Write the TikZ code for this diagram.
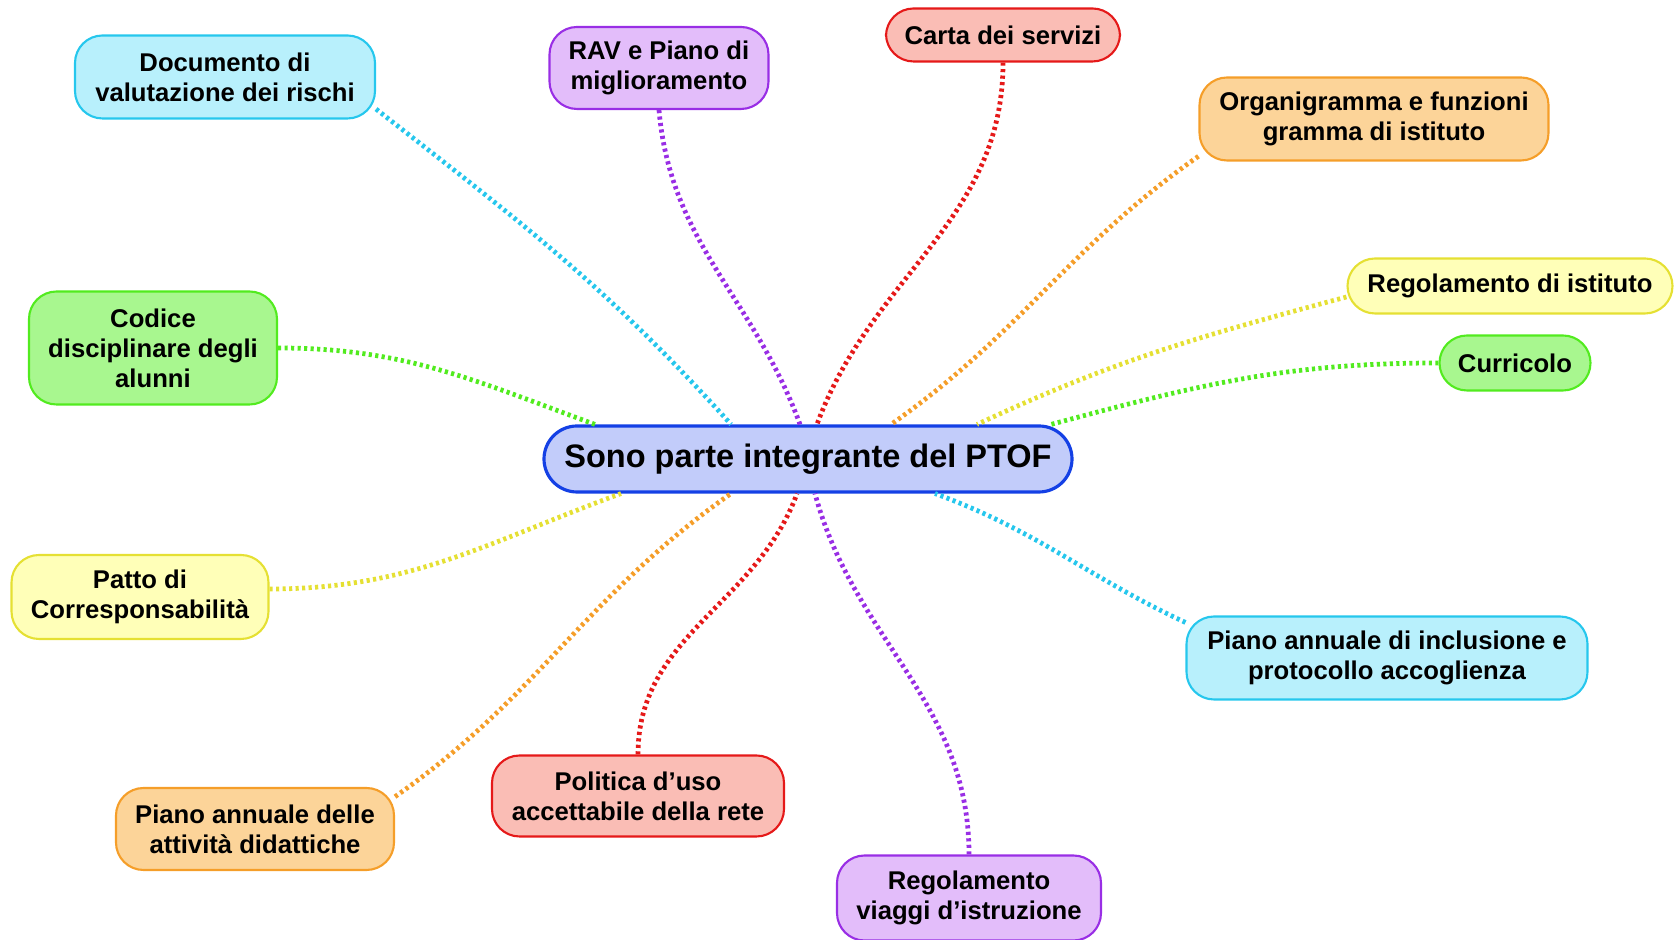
\documentclass[tikz,border=0pt]{standalone}
\usepackage{fontspec}
\setmainfont{Liberation Sans}
\usepackage{xcolor}
\usepackage{tikz}
\usetikzlibrary{positioning}
\definecolor{cyanfill}{rgb}{0.72,0.94,0.99}
\definecolor{cyanline}{rgb}{0.15,0.78,0.93}
\definecolor{purplefill}{rgb}{0.89,0.74,0.98}
\definecolor{purpleline}{rgb}{0.60,0.18,0.90}
\definecolor{redfill}{rgb}{0.98,0.74,0.71}
\definecolor{redline}{rgb}{0.90,0.10,0.10}
\definecolor{orangefill}{rgb}{0.99,0.83,0.60}
\definecolor{orangeline}{rgb}{0.96,0.62,0.16}
\definecolor{yellowfill}{rgb}{1.00,1.00,0.72}
\definecolor{yellowline}{rgb}{0.90,0.88,0.20}
\definecolor{greenfill}{rgb}{0.66,0.97,0.56}
\definecolor{greenline}{rgb}{0.32,0.92,0.12}
\definecolor{ptoffill}{rgb}{0.76,0.80,0.98}
\definecolor{ptofline}{rgb}{0.08,0.25,0.90}

\begin{document}
\begin{tikzpicture}[
    topic/.style={draw, line width=1.2pt, rounded corners=0.55cm, align=center,
      inner sep=0pt, font=\fontsize{14.6}{17}\selectfont\bfseries},
    cyanbox/.style={topic, draw=cyanline, fill=cyanfill},
    purplebox/.style={topic, draw=purpleline, fill=purplefill},
    redbox/.style={topic, draw=redline, fill=redfill},
    orangebox/.style={topic, draw=orangeline, fill=orangefill},
    yellowbox/.style={topic, draw=yellowline, fill=yellowfill},
    greenbox/.style={topic, draw=greenline, fill=greenfill},
    link/.style={line width=2.7pt, dash pattern=on 1.8pt off 1.9pt}
  ]
        \useasboundingbox (0,0) rectangle (33.56,18.8);

        \node[draw=ptofline, fill=ptoffill, line width=1.8pt, rounded corners=0.66cm,
          minimum width=10.56cm, minimum height=1.32cm, inner sep=0pt,
          font=\fontsize{18.5}{22}\selectfont\bfseries]
          (ptof) at (16.16,9.62) {\raisebox{-1pt}{Sono parte integrante del PTOF}};

        \node[cyanbox, minimum width=6.0cm, minimum height=1.66cm]
          (doc) at (4.50,17.26) {Documento di\\valutazione dei rischi};
        \node[purplebox, minimum width=4.38cm, minimum height=1.64cm]
          (rav) at (13.18,17.44) {RAV e Piano di\\miglioramento};
        \node[redbox, minimum width=4.68cm, minimum height=1.06cm]
          (carta) at (20.06,18.10) {Carta dei servizi};
        \node[orangebox, minimum width=6.98cm, minimum height=1.66cm]
          (organ) at (27.48,16.42) {Organigramma e funzioni\\gramma di istituto};
        \node[yellowbox, minimum width=6.5cm, minimum height=1.1cm]
          (regist) at (30.20,13.08) {\raisebox{-1.5pt}{Regolamento di istituto}};
        \node[greenbox, minimum width=3.02cm, minimum height=1.1cm]
          (curr) at (30.30,11.54) {Curricolo};
        \node[greenbox, minimum width=4.96cm, minimum height=2.26cm]
          (codice) at (3.06,11.84) {Codice\\disciplinare degli\\alunni};
        \node[yellowbox, minimum width=5.14cm, minimum height=1.68cm]
          (patto) at (2.80,6.86) {Patto di\\Corresponsabilità};
        \node[cyanbox, minimum width=8.02cm, minimum height=1.66cm]
          (inclus) at (27.74,5.64) {Piano annuale di inclusione e\\protocollo accoglienza};
        \node[orangebox, minimum width=5.56cm, minimum height=1.64cm]
          (attiv) at (5.10,2.22) {Piano annuale delle\\attività didattiche};
        \node[redbox, minimum width=5.84cm, minimum height=1.62cm]
          (polit) at (12.76,2.88) {Politica d’uso\\accettabile della rete};
        \node[purplebox, minimum width=5.28cm, minimum height=1.7cm]
          (viaggi) at (19.38,0.84) {Regolamento\\viaggi d’istruzione};

        % rami sopra
        \draw[link, cyanline] (doc.-12) to[out=-38, in=132] ([xshift=-1.54cm]ptof.north);
        \draw[link, purpleline] (rav.south) to[out=-85, in=110] ([xshift=-0.16cm]ptof.north);
        \draw[link, redline] (carta.south) to[out=-90, in=70] ([xshift=0.18cm]ptof.north);
        \draw[link, orangeline] (organ.192) to[out=215, in=35] ([xshift=1.66cm]ptof.north);
        \draw[link, yellowline] ([yshift=-0.22cm]regist.west) to[out=195, in=25] ([xshift=3.38cm]ptof.north);
        \draw[link, greenline] (curr.west) to[out=180, in=15] ([xshift=4.86cm]ptof.north);
        \draw[link, greenline] (codice.east) to[out=0, in=160] ([xshift=-4.26cm]ptof.north);

        % rami sotto
        \draw[link, yellowline] ([yshift=0.16cm]patto.east) to[out=0, in=200] ([xshift=-3.74cm]ptof.south);
        \draw[link, orangeline] (attiv.13) to[out=35, in=215] ([xshift=-1.54cm]ptof.south);
        \draw[link, redline] (polit.north) to[out=90, in=250] ([xshift=-0.22cm]ptof.south);
        \draw[link, purpleline] (viaggi.north) to[out=90, in=285] ([xshift=0.14cm]ptof.south);
        \draw[link, cyanline] (inclus.170) to[out=155, in=-20] ([xshift=2.54cm]ptof.south);
      \end{tikzpicture}
\end{document}
